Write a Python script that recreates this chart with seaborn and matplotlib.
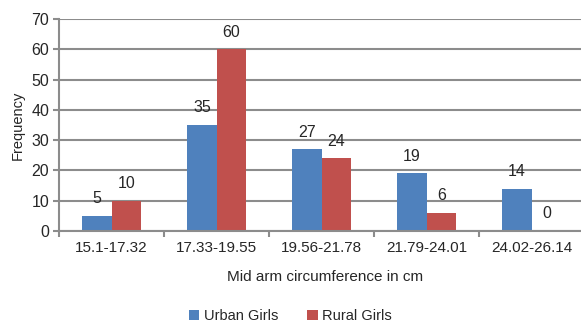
import matplotlib
matplotlib.use("Agg")
import matplotlib.pyplot as plt
import seaborn as sns
import pandas as pd

categories = ["15.1-17.32", "17.33-19.55", "19.56-21.78", "21.79-24.01", "24.02-26.14"]
urban_girls = [5, 35, 27, 19, 14]
rural_girls = [10, 60, 24, 6, 0]
series_names = ["Urban Girls", "Rural Girls"]
colors = ["#4f81bd", "#c0504d"]

df = pd.DataFrame({
    "range": categories * 2,
    "freq": urban_girls + rural_girls,
    "group": [series_names[0]] * len(categories) + [series_names[1]] * len(categories),
})

sns.set_style("white")
plt.rcParams["font.family"] = ["Liberation Sans", "DejaVu Sans"]

fig = plt.figure(figsize=(5.81, 3.26), dpi=100)
ax = fig.add_axes([59 / 581, 95 / 326, 525.4 / 581, 212 / 326])

sns.barplot(data=df, x="range", y="freq", hue="group", palette=colors,
            width=0.56, gap=0, saturation=1, linewidth=0, edgecolor="none",
            ax=ax, legend=True)

grid_c = "#8c8c8c"
ax.set_ylim(0, 70)
ax.set_xlim(-0.5, 4.5)
ax.set_yticks(range(0, 71, 10))
ax.yaxis.grid(True, color=grid_c, linewidth=1.5)
ax.set_axisbelow(True)
for s in ["top", "right"]:
    ax.spines[s].set_visible(False)
for s in ["left", "bottom"]:
    ax.spines[s].set_color(grid_c)
    ax.spines[s].set_linewidth(1.5)

ax.tick_params(axis="y", left=True, length=4, width=1.5, color=grid_c, labelsize=11.5, pad=3)
ax.tick_params(axis="x", which="major", length=0, labelsize=11, pad=7)
ax.set_xticks([-0.5, 0.5, 1.5, 2.5, 3.5], minor=True)
ax.tick_params(axis="x", which="minor", bottom=True, length=4, width=1.5, color=grid_c)

for cont in ax.containers:
    ax.bar_label(cont, padding=7, fontsize=11.5)

ax.set_xlabel("Mid arm circumference in cm", fontsize=11)
ax.set_ylabel("Frequency", fontsize=10.5)
ax.xaxis.set_label_coords((325 - 59) / 525.4, -0.185)
ax.yaxis.set_label_coords(-0.065, 0.5)

ax.legend(loc="center", bbox_to_anchor=(0.5, 0.03), bbox_transform=fig.transFigure,
          ncol=2, frameon=False, fontsize=10.5, handlelength=0.7, handleheight=0.7,
          handletextpad=0.3, columnspacing=2.0)

fig.savefig("out.png", dpi=100)
